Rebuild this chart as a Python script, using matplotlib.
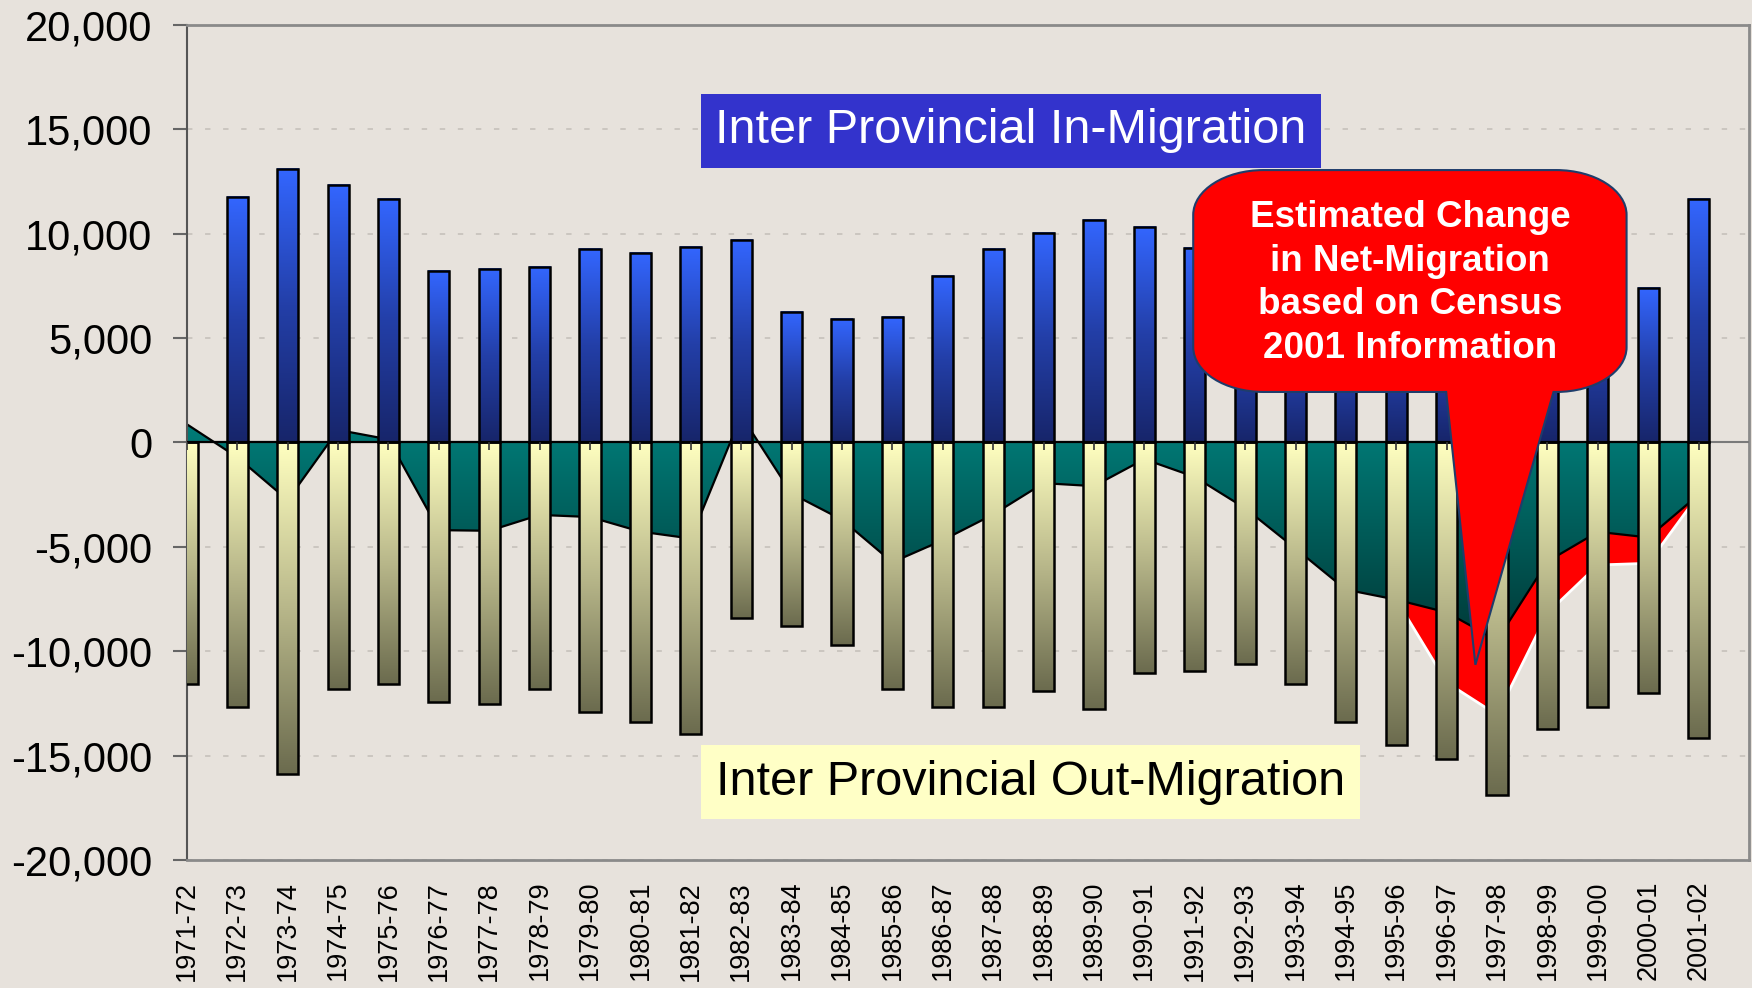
import numpy as np
import matplotlib.pyplot as plt
from matplotlib.colors import LinearSegmentedColormap
from matplotlib.path import Path
from matplotlib.patches import PathPatch
from matplotlib.ticker import FuncFormatter

plt.rcParams['font.family'] = ['Liberation Sans', 'DejaVu Sans']

# data
years = ["1971-72", "1972-73", "1973-74", "1974-75", "1975-76", "1976-77", "1977-78",
         "1978-79", "1979-80", "1980-81", "1981-82", "1982-83", "1983-84", "1984-85",
         "1985-86", "1986-87", "1987-88", "1988-89", "1989-90", "1990-91", "1991-92",
         "1992-93", "1993-94", "1994-95", "1995-96", "1996-97", "1997-98", "1998-99",
         "1999-00", "2000-01", "2001-02"]
in_migration = [np.nan, 11750, 13100, 12330, 11650, 8200, 8300, 8400, 9280, 9060, 9380,
                9700, 6250, 5900, 6000, 7980, 9260, 10020, 10650, 10340, 9300,
                7460, 6480, 6350, 6980, 7010, 7385, 8030, 8370, 7420, 11680]
out_migration = [-11570, -12680, -15900, -11790, -11570, -12440, -12550, -11790, -12890,
                 -13400, -13950, -8430, -8770, -9720, -11790, -12660, -12660, -11900,
                 -12780, -11040, -10940, -10610, -11570, -13400, -14510, -15150, -16870,
                 -13740, -12660, -12000, -14170]
net_migration = [870, -710, -2760, 600, 150, -4200, -4230, -3470, -3570, -4270, -4600,
                 1290, -2450, -3700, -5740, -4680, -3450, -1950, -2090, -800, -1650,
                 -3150, -5080, -7050, -7530, -8140, -9475, -5700, -4280, -4550, -2500]
revised_years = years[24:]
revised_net = [-7530, -11500, -13050, -8180, -5870, -5790, -2500]

bg = '#E7E2DC'
bar_w = 0.42
x = np.arange(len(years))
xr = np.array([years.index(y) for y in revised_years])

blue_cm = LinearSegmentedColormap.from_list('blue', ['#17256A', '#233FA8', '#3366FF'])
yellow_cm = LinearSegmentedColormap.from_list('yel', ['#6B6B4E', '#B8B78A', '#FFFFC0'])
teal_cm = LinearSegmentedColormap.from_list('teal', ['#003A38', '#007F7B'])
grad = np.linspace(0, 1, 256).reshape(-1, 1)

fig = plt.figure(figsize=(17.52, 9.88), dpi=100, facecolor=bg)
ax = fig.add_axes([0.1067, 0.1296, 0.8916, 0.8451], facecolor=bg)

# red estimated change area, under the teal net area
ax.fill_between(xr, revised_net, 0, color='#FF0000', lw=0, zorder=1.5)
ax.plot(xr, revised_net, color='white', lw=2, zorder=1.6)

# teal net migration area with vertical gradient
area = ax.fill_between(x, net_migration, 0, facecolor='none', lw=0, zorder=2)
im = ax.imshow(grad, extent=(x[0], x[-1], min(net_migration), max(net_migration)),
               origin='lower', cmap=teal_cm, aspect='auto', zorder=2,
               interpolation='bilinear')
im.set_clip_path(area.get_paths()[0], ax.transData)
ax.plot(x, net_migration, color='black', lw=1.6, zorder=2.2)

# gradient bars
for xi, hin, hout in zip(x, in_migration, out_migration):
    if not np.isnan(hin):
        ax.imshow(grad, extent=(xi - bar_w / 2, xi + bar_w / 2, 0, hin), origin='lower',
                  cmap=blue_cm, aspect='auto', zorder=3, interpolation='bilinear')
    ax.imshow(grad, extent=(xi - bar_w / 2, xi + bar_w / 2, hout, 0), origin='lower',
              cmap=yellow_cm, aspect='auto', zorder=3, interpolation='bilinear')
ax.bar(x, np.nan_to_num(in_migration), width=bar_w, fill=False, edgecolor='black',
       lw=1.8, zorder=3.5)
ax.bar(x, out_migration, width=bar_w, fill=False, edgecolor='black', lw=1.8, zorder=3.5)

# zero line with small category ticks
ax.axhline(0, color='#7a7a7a', lw=1.5, zorder=3.2)
ax.hlines(0, x[0], x[-1], color='black', lw=1.6, zorder=3.3)
ax.plot(x, np.zeros(len(x)), linestyle='none', marker=3, markersize=6,
        color='#333333', markeredgewidth=1.2, zorder=3.6)

ax.set_xlim(0, len(years))
ax.set_ylim(-20000, 20000)
ax.set_yticks(np.arange(-20000, 20001, 5000))
ax.yaxis.set_major_formatter(FuncFormatter(lambda v, p: f"{int(v):,}"))
ax.set_xticks(x)
ax.set_xticklabels(years, rotation=90, fontsize=19.5)
ax.tick_params(axis='x', length=0, pad=15)
ax.tick_params(axis='y', labelsize=30, length=10, width=1.5, color='#666666', pad=15)
ax.grid(axis='y', linestyle=(0, (3, 7)), color='#C9C4BE', lw=1.3, zorder=0)
ax.set_axisbelow(True)
for side in ['top', 'right', 'bottom']:
    ax.spines[side].set_color('#8a8a8a')
    ax.spines[side].set_linewidth(2)
ax.spines['left'].set_color('#555555')
ax.spines['left'].set_linewidth(1.5)

# labels
ax.text(16.35, 14940, "Inter Provincial In-Migration", fontsize=35, color='white',
        ha='center', va='center', zorder=5,
        bbox=dict(boxstyle='square,pad=0.3', facecolor='#3333CC', edgecolor='none'))
ax.text(16.74, -16280, "Inter Provincial Out-Migration", fontsize=35, color='black',
        ha='center', va='center', zorder=5,
        bbox=dict(boxstyle='square,pad=0.3', facecolor='#FFFFC6', edgecolor='none'))

# callout bubble with tail
L, R, T, B = 19.97, 28.57, 13050, 2420
rx, ry, k = 1.4, 2150, 0.5523
tl, tr, tip = 24.99, 27.12, (25.57, -10650)
verts = [(L + rx, T), (R - rx, T),
         (R - rx + k * rx, T), (R, T - ry + k * ry), (R, T - ry),
         (R, B + ry),
         (R, B + ry - k * ry), (R - rx + k * rx, B), (R - rx, B),
         (tr, B), tip, (tl, B), (L + rx, B),
         (L + rx - k * rx, B), (L, B + ry - k * ry), (L, B + ry),
         (L, T - ry),
         (L, T - ry + k * ry), (L + rx - k * rx, T), (L + rx, T),
         (L + rx, T)]
codes = [Path.MOVETO, Path.LINETO,
         Path.CURVE4, Path.CURVE4, Path.CURVE4,
         Path.LINETO,
         Path.CURVE4, Path.CURVE4, Path.CURVE4,
         Path.LINETO, Path.LINETO, Path.LINETO, Path.LINETO,
         Path.CURVE4, Path.CURVE4, Path.CURVE4,
         Path.LINETO,
         Path.CURVE4, Path.CURVE4, Path.CURVE4,
         Path.CLOSEPOLY]
ax.add_patch(PathPatch(Path(verts, codes), facecolor='#FF0000', edgecolor='#1F3D6B',
                       lw=1.5, zorder=6))
ax.text((L + R) / 2, 7640,
        "Estimated Change\nin Net-Migration\nbased on Census\n2001 Information",
        fontsize=26.5, fontweight='bold', color='white', ha='center', va='center',
        linespacing=1.32, zorder=7)

plt.savefig('out.png', dpi=100, facecolor=bg)
